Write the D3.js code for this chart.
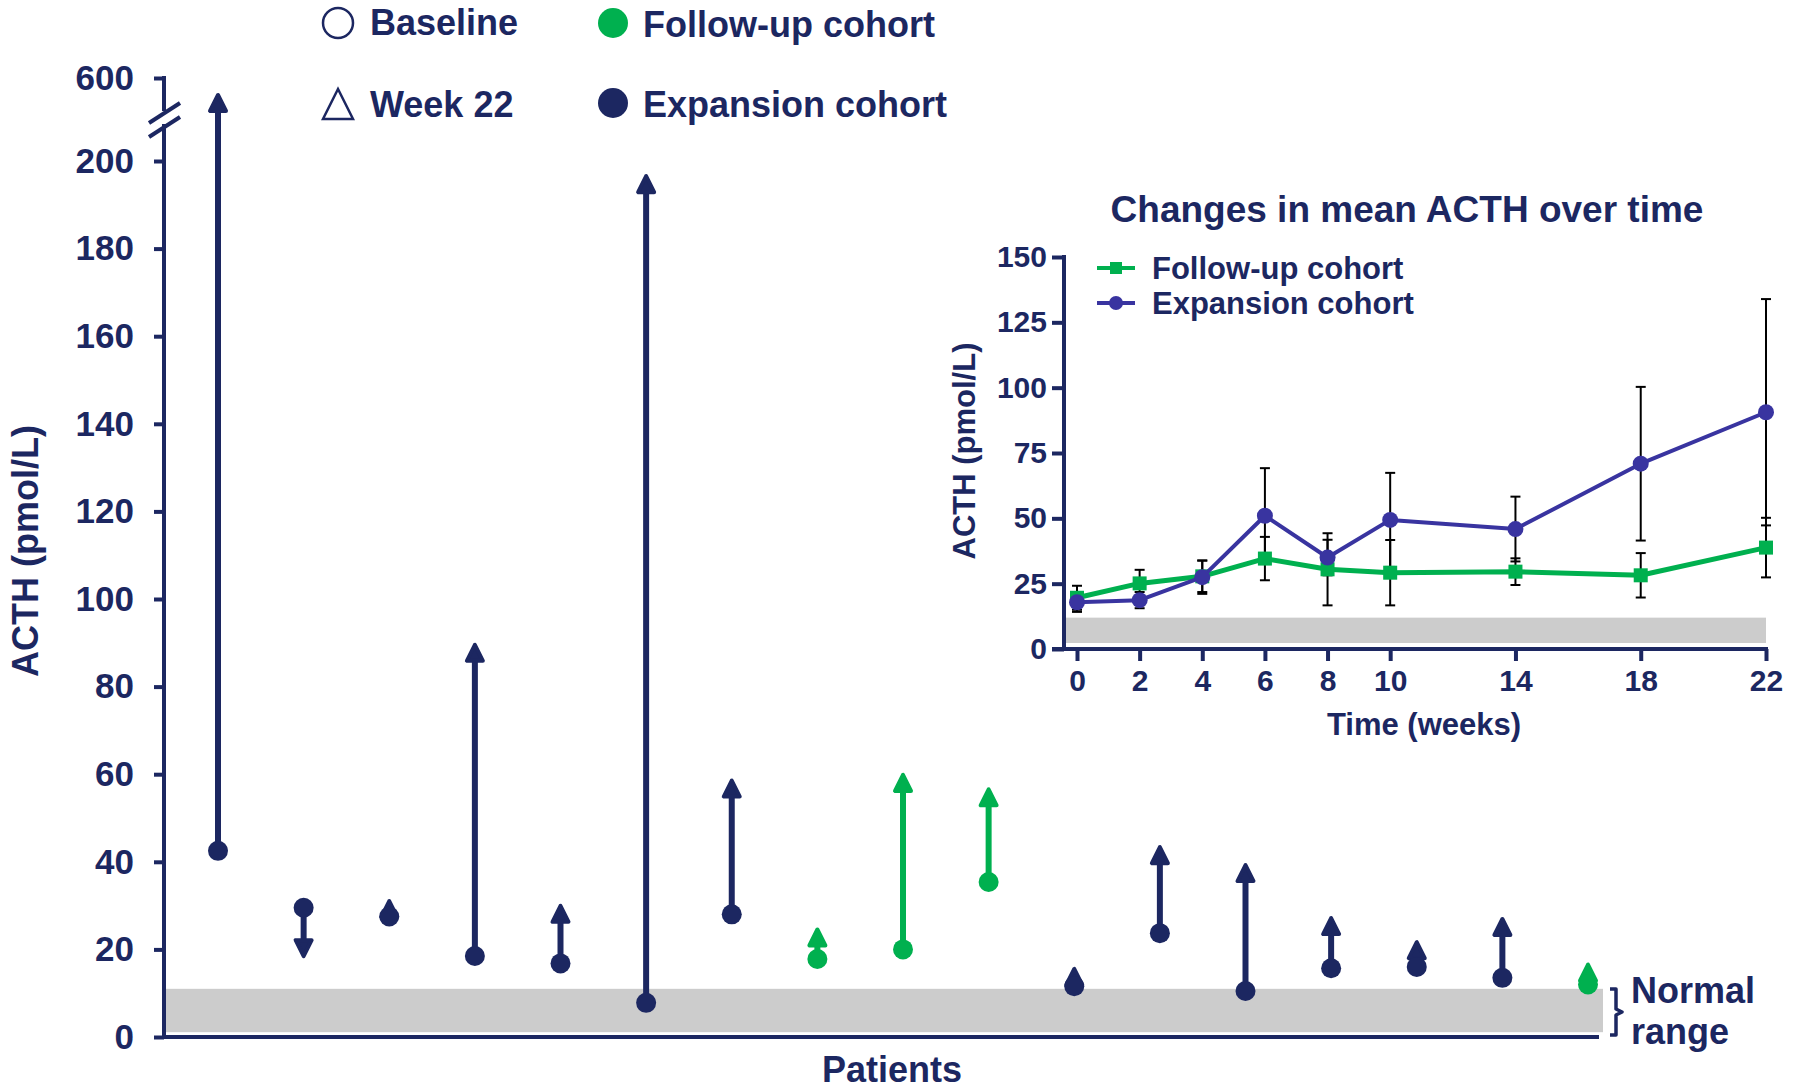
<!DOCTYPE html>
<html>
<head>
<meta charset="utf-8">
<script src="https://cdn.jsdelivr.net/npm/d3@7"></script>
<style>
  body { margin: 0; background: #fff; }
  svg text {
    font-family: "Liberation Sans", Arial, sans-serif;
    font-weight: bold;
    fill: #1c2761;
  }
</style>
</head>
<body>
<svg id="chart" width="1800" height="1091"></svg>
<script>
// main panel: ACTH per patient, baseline -> week 22
const patients = d3.range(1, 18);
const cohorts = ['exp', 'exp', 'exp', 'exp', 'exp', 'exp', 'exp', 'fu', 'fu', 'fu',
  'exp', 'exp', 'exp', 'exp', 'exp', 'exp', 'fu'];
const baselineValues = [42.5, 29.5, 27.5, 18.5, 16.8, 7.8, 28, 17.8, 20, 35.4,
  11.6, 23.7, 10.5, 15.7, 16, 13.5, 12];
const week22Values = [540, 18, 31.5, 90, 30.4, 197, 59, 25, 60.3, 57,
  16, 43.8, 39.7, 27.6, 22.1, 27.4, 17];
const yTicks = [0, 20, 40, 60, 80, 100, 120, 140, 160, 180, 200];
const yTicksAboveBreak = [600];
const normalRange = [1.1, 11];

// inset: mean ACTH over time
const weeks = [0, 2, 4, 6, 8, 10, 14, 18, 22];
const followUpMean = [19.6, 25.1, 27.8, 34.6, 30.5, 29.2, 29.6, 28.2, 38.8];
const followUpErr = [4.6, 5.2, 6, 8.3, 13.8, 12.5, 5.1, 8.5, 11.4];
const expansionMean = [17.9, 18.7, 27.5, 51, 35, 49.4, 45.9, 70.9, 90.6];
const expansionErr = [3.7, 3.1, 6.4, 18.2, 6.8, 18, 12.4, 29.4, 43.3];
const insetTicks = [0, 25, 50, 75, 100, 125, 150];
const insetNormal = [2.3, 12];

const NAVY = '#1c2761';
const GREEN = '#00b04f';
const BLUE = '#3934a0';
const GREY = '#cccccc';
const colorOf = { exp: NAVY, fu: GREEN };

const svg = d3.select('#chart');

// ---------- main panel ----------
const x = d3.scalePoint().domain(patients).range([218, 1588]);
const yLow = d3.scaleLinear().domain([0, 200]).range([1037, 161]);
const yHigh = d3.scaleLinear().domain([400, 600]).range([128, 78]);
const y = (v) => (v > 200 ? yHigh(v) : yLow(v));
const axisX = 164;

svg.append('rect')
  .attr('x', axisX)
  .attr('y', yLow(normalRange[1]))
  .attr('width', 1603 - axisX)
  .attr('height', yLow(normalRange[0]) - yLow(normalRange[1]))
  .attr('fill', GREY);

const drawTicks = (scale, values) => {
  const g = svg.append('g')
    .attr('transform', `translate(${axisX},0)`)
    .call(d3.axisLeft(scale).tickValues(values).tickSize(10).tickPadding(20));
  g.select('.domain').remove();
  g.selectAll('line').attr('stroke', NAVY).attr('stroke-width', 4);
  g.selectAll('text')
    .attr('font-size', 35)
    .attr('fill', NAVY)
    .style('font-family', '"Liberation Sans", Arial, sans-serif');
};
drawTicks(yLow, yTicks);
drawTicks(yHigh, yTicksAboveBreak);

// broken y axis
svg.append('line')
  .attr('x1', axisX).attr('x2', axisX)
  .attr('y1', yHigh(600) - 2).attr('y2', 111)
  .attr('stroke', NAVY).attr('stroke-width', 4);
svg.append('line')
  .attr('x1', axisX).attr('x2', axisX)
  .attr('y1', 124).attr('y2', yLow(0) + 2)
  .attr('stroke', NAVY).attr('stroke-width', 4);
[0, 14].forEach((dy) => {
  svg.append('line')
    .attr('x1', axisX - 15).attr('y1', 123 + dy)
    .attr('x2', axisX + 16).attr('y2', 103 + dy)
    .attr('stroke', NAVY).attr('stroke-width', 4);
});

// x axis line
svg.append('line')
  .attr('x1', axisX - 2).attr('x2', 1599)
  .attr('y1', yLow(0)).attr('y2', yLow(0))
  .attr('stroke', NAVY).attr('stroke-width', 4);

// arrows
patients.forEach((p, i) => {
  const cx = x(p);
  const y0 = y(baselineValues[i]);
  const y1 = y(week22Values[i]);
  const dir = y1 < y0 ? 1 : -1;
  const color = colorOf[cohorts[i]];
  const headH = 18;

  svg.append('line')
    .attr('x1', cx).attr('x2', cx)
    .attr('y1', y0)
    .attr('y2', y1 + dir * headH * 0.6)
    .attr('stroke', color)
    .attr('stroke-width', 6);

  svg.append('path')
    .attr('d', `M${cx},${y1 + dir * 2} L${cx - 8},${y1 + dir * headH} L${cx + 8},${y1 + dir * headH} Z`)
    .attr('fill', color)
    .attr('stroke', color)
    .attr('stroke-width', 4)
    .attr('stroke-linejoin', 'round');

  svg.append('circle')
    .attr('cx', cx).attr('cy', y0)
    .attr('r', 10)
    .attr('fill', color);
});

// axis titles
svg.append('text')
  .attr('transform', 'translate(25,551) rotate(-90)')
  .attr('text-anchor', 'middle')
  .attr('dy', '0.36em')
  .attr('font-size', 36)
  .text('ACTH (pmol/L)');

svg.append('text')
  .attr('x', 892).attr('y', 1082)
  .attr('text-anchor', 'middle')
  .attr('font-size', 36)
  .text('Patients');

// normal range bracket
svg.append('path')
  .attr('d', 'M1610,989 h6 v20 l6,3 l-6,3 v20 h-6')
  .attr('fill', 'none')
  .attr('stroke', NAVY)
  .attr('stroke-width', 3.5)
  .attr('stroke-linejoin', 'round');
svg.append('text').attr('x', 1631).attr('y', 1003).attr('font-size', 36).text('Normal');
svg.append('text').attr('x', 1631).attr('y', 1044).attr('font-size', 36).text('range');

// top legend
const legend = svg.append('g');
legend.append('circle')
  .attr('cx', 338).attr('cy', 23).attr('r', 15)
  .attr('fill', '#fff').attr('stroke', NAVY).attr('stroke-width', 2.5);
legend.append('path')
  .attr('d', 'M338,89 L323,119 L353,119 Z')
  .attr('fill', '#fff').attr('stroke', NAVY).attr('stroke-width', 2.5);
legend.append('circle').attr('cx', 613).attr('cy', 23).attr('r', 15).attr('fill', GREEN);
legend.append('circle').attr('cx', 613).attr('cy', 103).attr('r', 15).attr('fill', NAVY);
[
  ['Baseline', 370, 35],
  ['Week 22', 370, 117],
  ['Follow-up cohort', 643, 37],
  ['Expansion cohort', 643, 117],
].forEach(([label, lx, ly]) => {
  legend.append('text').attr('x', lx).attr('y', ly).attr('font-size', 36).text(label);
});

// ---------- inset ----------
const xi = d3.scaleLinear().domain([0, 22]).range([1077, 1766]);
const yi = d3.scaleLinear().domain([0, 150]).range([649, 257]);
const insetAxisX = 1064;

svg.append('rect')
  .attr('x', insetAxisX + 2)
  .attr('y', yi(insetNormal[1]))
  .attr('width', xi(22) - insetAxisX - 2)
  .attr('height', yi(insetNormal[0]) - yi(insetNormal[1]))
  .attr('fill', GREY);

const gyi = svg.append('g')
  .attr('transform', `translate(${insetAxisX},0)`)
  .call(d3.axisLeft(yi).tickValues(insetTicks).tickSize(12).tickPadding(5));
gyi.select('.domain').remove();

const gxi = svg.append('g')
  .attr('transform', `translate(0,${yi(0)})`)
  .call(d3.axisBottom(xi).tickValues(weeks).tickSize(12).tickPadding(9));
gxi.select('.domain').remove();

[gyi, gxi].forEach((g) => {
  g.selectAll('line').attr('stroke', NAVY).attr('stroke-width', 4);
  g.selectAll('text')
    .attr('font-size', 30)
    .attr('fill', NAVY)
    .style('font-family', '"Liberation Sans", Arial, sans-serif');
});

svg.append('line')
  .attr('x1', insetAxisX).attr('x2', insetAxisX)
  .attr('y1', yi(150) - 2).attr('y2', yi(0) + 2)
  .attr('stroke', NAVY).attr('stroke-width', 4);
svg.append('line')
  .attr('x1', insetAxisX - 12).attr('x2', xi(22) + 2)
  .attr('y1', yi(0)).attr('y2', yi(0))
  .attr('stroke', NAVY).attr('stroke-width', 4);

const series = [
  { name: 'Follow-up cohort', mean: followUpMean, err: followUpErr, color: GREEN, width: 5, marker: 'square' },
  { name: 'Expansion cohort', mean: expansionMean, err: expansionErr, color: BLUE, width: 4, marker: 'circle' },
];

// error bars
series.forEach((s) => {
  weeks.forEach((w, i) => {
    const cx = xi(w);
    const hi = yi(s.mean[i] + s.err[i]);
    const lo = yi(s.mean[i] - s.err[i]);
    svg.append('line')
      .attr('x1', cx).attr('x2', cx).attr('y1', hi).attr('y2', lo)
      .attr('stroke', '#000').attr('stroke-width', 2);
    [hi, lo].forEach((yy) => {
      svg.append('line')
        .attr('x1', cx - 5).attr('x2', cx + 5).attr('y1', yy).attr('y2', yy)
        .attr('stroke', '#000').attr('stroke-width', 2);
    });
  });
});

const drawMarker = (g, marker, cx, cy, color, size) => {
  if (marker === 'square') {
    g.append('rect')
      .attr('x', cx - size).attr('y', cy - size)
      .attr('width', size * 2).attr('height', size * 2)
      .attr('fill', color);
  } else {
    g.append('circle').attr('cx', cx).attr('cy', cy).attr('r', size + 1).attr('fill', color);
  }
};

series.forEach((s) => {
  const line = d3.line().x((d) => xi(d[0])).y((d) => yi(d[1]));
  svg.append('path')
    .datum(weeks.map((w, i) => [w, s.mean[i]]))
    .attr('d', line)
    .attr('fill', 'none')
    .attr('stroke', s.color)
    .attr('stroke-width', s.width)
    .attr('stroke-linejoin', 'round');
  weeks.forEach((w, i) => drawMarker(svg, s.marker, xi(w), yi(s.mean[i]), s.color, 7));
});

// inset legend
series.forEach((s, i) => {
  const ly = 268 + i * 35;
  svg.append('line')
    .attr('x1', 1097).attr('x2', 1135).attr('y1', ly).attr('y2', ly)
    .attr('stroke', s.color).attr('stroke-width', 4);
  drawMarker(svg, s.marker, 1116, ly, s.color, 6);
  svg.append('text')
    .attr('x', 1152).attr('y', ly)
    .attr('dy', '0.36em')
    .attr('font-size', 31)
    .text(s.name);
});

svg.append('text')
  .attr('x', 1407).attr('y', 222)
  .attr('text-anchor', 'middle')
  .attr('font-size', 37)
  .text('Changes in mean ACTH over time');

svg.append('text')
  .attr('transform', 'translate(964,451) rotate(-90)')
  .attr('text-anchor', 'middle')
  .attr('dy', '0.36em')
  .attr('font-size', 31)
  .text('ACTH (pmol/L)');

svg.append('text')
  .attr('x', 1424).attr('y', 735)
  .attr('text-anchor', 'middle')
  .attr('font-size', 31)
  .text('Time (weeks)');
</script>
</body>
</html>
